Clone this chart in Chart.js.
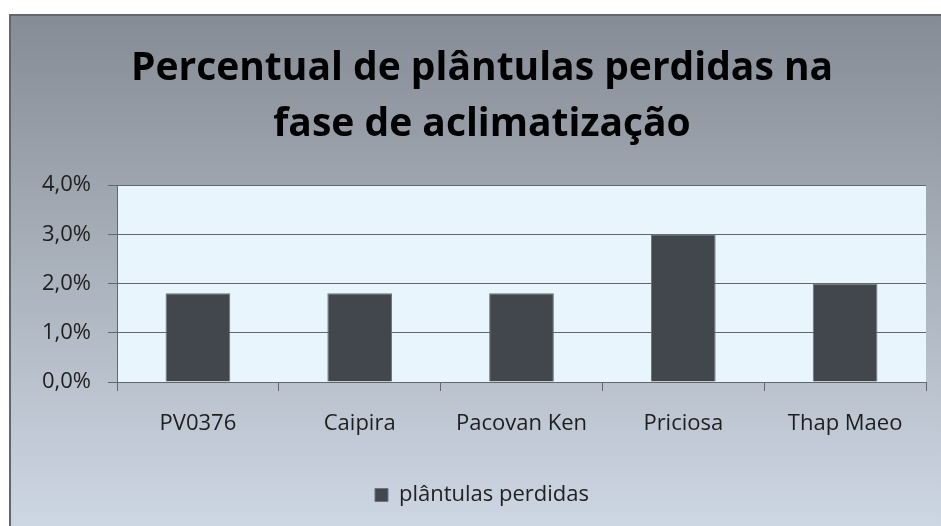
<!DOCTYPE html>
<html>
<head>
<meta charset="utf-8">
<script src="https://cdn.jsdelivr.net/npm/chart.js@4"></script>
<style>
html,body{margin:0;padding:0;background:#fff;overflow:hidden;}
#wrap{position:absolute;left:0;top:0;width:941px;height:526px;}
</style>
</head>
<body>
<div id="wrap"><canvas id="c" width="941" height="526"></canvas></div>
<script>
const titleLines = ['Percentual de plântulas perdidas na', 'fase de aclimatização'];
const categories = ['PV0376', 'Caipira', 'Pacovan Ken', 'Priciosa', 'Thap Maeo'];
const seriesName = 'plântulas perdidas';
const lossPercent = [1.8, 1.8, 1.8, 3.0, 2.0];
const yTicks = { min: 0, max: 4, step: 1 };

const bgPlugin = {
  id: 'bg',
  beforeDraw(chart) {
    const ctx = chart.ctx;
    const W = chart.width, H = chart.height;
    ctx.save();
    ctx.fillStyle = '#ffffff';
    ctx.fillRect(0, 0, W, H);
    const g = ctx.createLinearGradient(0, 15, 0, H);
    g.addColorStop(0, '#868c95');
    g.addColorStop(1, '#cdd7e3');
    ctx.fillStyle = g;
    ctx.fillRect(10, 15, W, H);
    ctx.strokeStyle = '#63666b';
    ctx.lineWidth = 2;
    ctx.beginPath();
    ctx.moveTo(10, H + 5);
    ctx.lineTo(10, 15);
    ctx.lineTo(W + 5, 15);
    ctx.stroke();
    const a = chart.chartArea;
    ctx.fillStyle = '#e8f5fd';
    ctx.fillRect(a.left, a.top, a.right - a.left, a.bottom - a.top);
    ctx.restore();
  }
};

new Chart(document.getElementById('c'), {
  type: 'bar',
  data: {
    labels: categories,
    datasets: [{
      label: seriesName,
      data: lossPercent,
      backgroundColor: '#42474d',
      borderColor: '#6c737a',
      borderWidth: 1,
      barPercentage: 0.4,
      categoryPercentage: 1.0
    }]
  },
  options: {
    responsive: false,
    animation: false,
    devicePixelRatio: 1,
    layout: { padding: { left: 38, right: 15, top: 41, bottom: 10 } },
    plugins: {
      title: {
        display: true,
        text: titleLines,
        color: '#000',
        font: { family: '"Open Sans", sans-serif', size: 39, weight: 'bold', lineHeight: 1.436 },
        padding: { top: 0, bottom: 32 }
      },
      legend: {
        display: true,
        position: 'bottom',
        labels: {
          color: '#222',
          boxWidth: 13,
          boxHeight: 13,
          font: { family: '"Open Sans", sans-serif', size: 22 },
          padding: 22
        }
      },
      tooltip: { enabled: false }
    },
    scales: {
      x: {
        afterFit(scale) { scale.height = 80; },
        grid: { display: true, drawOnChartArea: false, drawTicks: true, tickLength: 9, color: '#62676d', offset: true },
        border: { display: true, color: '#62676d' },
        ticks: { color: '#1e1e1e', padding: 20, font: { family: '"Open Sans", sans-serif', size: 22 } }
      },
      y: {
        min: yTicks.min,
        max: yTicks.max,
        afterFit(scale) { scale.width = 79; },
        grid: { color: '#62676d', tickLength: 9 },
        border: { display: true, color: '#62676d' },
        ticks: {
          stepSize: yTicks.step,
          color: '#1e1e1e',
          padding: 17,
          font: { family: '"Open Sans", sans-serif', size: 22 },
          callback: v => v.toFixed(1).replace('.', ',') + '%'
        }
      }
    }
  },
  plugins: [bgPlugin]
});
</script>
</body>
</html>
